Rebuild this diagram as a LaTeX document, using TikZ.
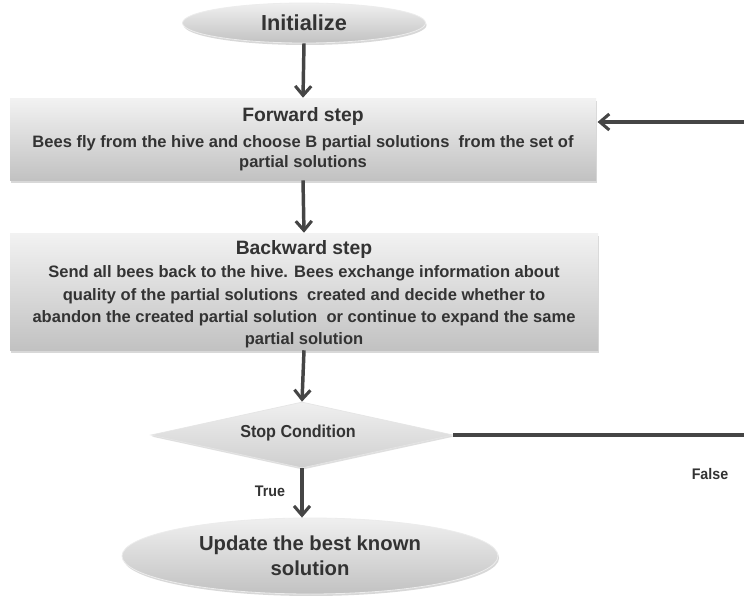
\documentclass[tikz,border=0pt]{standalone}
\usepackage{fontspec}
\setmainfont{Liberation Sans}
\newfontfamily\narrowfont[FakeStretch=0.93]{Liberation Sans}
\usetikzlibrary{shapes.geometric,shadows,arrows.meta}
\definecolor{linecol}{HTML}{454545}
\definecolor{txtcol}{HTML}{333333}
\newcommand{\pxl}[1]{#1*0.75pt}
\newcommand{\titlefont}{\bfseries\fontsize{14.5}{17}\selectfont}
\newcommand{\bodyfont}{\bfseries\fontsize{12.4}{15.4}\selectfont}
\newcommand{\bodyfontwide}{\bfseries\fontsize{12.4}{16.7}\selectfont}
\tikzset{
  boxstyle/.style={rectangle, top color=gray!10, bottom color=gray!48, draw=none,
    drop shadow={opacity=0.3, shadow xshift=0.8pt, shadow yshift=-2pt},
    text=txtcol, align=center, inner sep=0pt, font=\bodyfont},
  ovalstyle/.style={ellipse, top color=gray!12, bottom color=gray!48, draw=white!85!gray, line width=0.6pt,
    drop shadow={opacity=0.3, shadow xshift=0.8pt, shadow yshift=-1.5pt},
    text=txtcol, align=center, inner sep=0pt},
  decision/.style={diamond, top color=gray!12, bottom color=gray!38, draw=white!80!gray, line width=0.5pt,
    drop shadow={opacity=0.25, shadow xshift=0.6pt, shadow yshift=-1.2pt},
    text=txtcol, inner sep=0pt},
  flow/.style={draw=linecol, line width=2.6pt, -{Straight Barb[length=7pt,width=12pt,line width=2.3pt]}},
  plain/.style={draw=linecol, line width=2.6pt},
  lbl/.style={text=txtcol, font=\narrowfont\bfseries\fontsize{11.5}{13}\selectfont, inner sep=0pt},
}
\begin{document}
\begin{tikzpicture}[x=0.75pt,y=-0.75pt]
\useasboundingbox (0,0) rectangle (744,596);
\fill[white] (0,0) rectangle (744,596);
\node[ovalstyle, minimum width=\pxl{243}, minimum height=\pxl{40}, font=\bfseries\fontsize{16.3}{18}\selectfont] (init) at (304,23) {Initialize};
\node[boxstyle, minimum width=\pxl{586}, minimum height=\pxl{82}] (fwd) at (303,139)
  {\titlefont Forward step\\[4pt]
   Bees fly from the hive and choose B partial solutions\ \ from the set of\\[-0.4pt]
   partial solutions};
\node[boxstyle, minimum width=\pxl{588}, minimum height=\pxl{117}, font=\bodyfontwide] (bwd) at (304,291.5)
  {\rule{0pt}{15pt}\titlefont Backward step\\[0.5pt]
   Send all bees back to the hive. Bees exchange information about\\
   quality of the partial solutions\ \ created and decide whether to\\
   abandon the created partial solution\ \ or continue to expand the same\\
   partial solution};
\node[decision, minimum width=\pxl{302}, minimum height=\pxl{66}] (stop) at (302,435) {};
\node[lbl, font=\narrowfont\bfseries\fontsize{13}{15}\selectfont] (stoptxt) at (298,433) {Stop Condition};
\node[ovalstyle, minimum width=\pxl{376}, minimum height=\pxl{76}, font=\bfseries\fontsize{15.2}{18.5}\selectfont] (upd) at (310,556) {Update the best known\\solution};
\node[lbl] (false) at (710,474) {False};
\node[lbl] (true) at (270,491) {True};
\coordinate (rb) at (760,435);
\coordinate (rt) at (760,122);
\draw[flow] (init.south) -- (fwd.north);
\draw[flow] (fwd.south) -- (bwd.north);
\draw[flow] (bwd.south) -- (stop.north);
\draw[flow] (stop.south) -- (stop.south |- upd.north);
\draw[plain] (stop.east) -- (rb) -- (rt);
\draw[flow, shorten >=1pt] (rt) -- (fwd.east |- rt);
\end{tikzpicture}
\end{document}
